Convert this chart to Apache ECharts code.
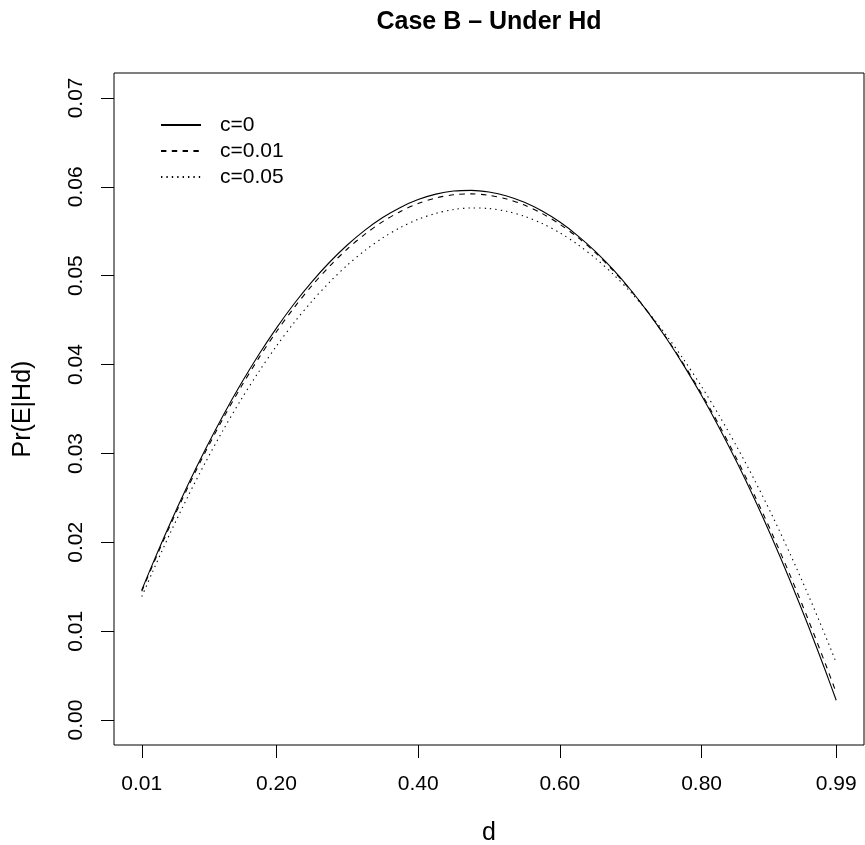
<!DOCTYPE html>
<html>
<head>
<meta charset="utf-8">
<script src="https://cdn.jsdelivr.net/npm/echarts@6/dist/echarts.min.js"></script>
<style>
html,body{margin:0;padding:0;background:#fff;}
#chart{width:865px;height:845px;}
</style>
</head>
<body>
<div id="chart"></div>
<script>
// d values (x)
const dValues = [0.01, 0.025, 0.05, 0.075, 0.10, 0.125, 0.15, 0.175, 0.20, 0.225, 0.25, 0.275, 0.30, 0.325,
                 0.35, 0.375, 0.40, 0.425, 0.45, 0.475, 0.50, 0.525, 0.55, 0.575, 0.60, 0.625, 0.65, 0.675,
                 0.70, 0.725, 0.75, 0.775, 0.80, 0.825, 0.85, 0.875, 0.90, 0.925, 0.95, 0.975, 0.99];
// Pr(E|Hd)
const c0   = [0.01463, 0.01752, 0.02211, 0.02644, 0.03050, 0.03430, 0.03783, 0.04110, 0.04410, 0.04684,
              0.04931, 0.05151, 0.05345, 0.05513, 0.05654, 0.05768, 0.05856, 0.05917, 0.05952, 0.05960,
              0.05941, 0.05897, 0.05825, 0.05727, 0.05603, 0.05451, 0.05274, 0.05070, 0.04839, 0.04582,
              0.04298, 0.03988, 0.03651, 0.03287, 0.02897, 0.02481, 0.02038, 0.01568, 0.01072, 0.00549, 0.00223];
const c001 = [0.01449, 0.01734, 0.02189, 0.02618, 0.03021, 0.03397, 0.03747, 0.04072, 0.04369, 0.04641,
              0.04887, 0.05106, 0.05300, 0.05467, 0.05608, 0.05723, 0.05811, 0.05874, 0.05910, 0.05920,
              0.05904, 0.05862, 0.05794, 0.05699, 0.05578, 0.05432, 0.05259, 0.05059, 0.04834, 0.04583,
              0.04305, 0.04001, 0.03671, 0.03315, 0.02932, 0.02524, 0.02089, 0.01628, 0.01141, 0.00628, 0.00308];
const c005 = [0.01390, 0.01664, 0.02102, 0.02514, 0.02902, 0.03265, 0.03604, 0.03918, 0.04207, 0.04472,
              0.04712, 0.04927, 0.05118, 0.05284, 0.05425, 0.05542, 0.05634, 0.05701, 0.05744, 0.05762,
              0.05755, 0.05724, 0.05668, 0.05587, 0.05482, 0.05352, 0.05197, 0.05018, 0.04814, 0.04586,
              0.04332, 0.04054, 0.03752, 0.03424, 0.03072, 0.02696, 0.02295, 0.01869, 0.01418, 0.00943, 0.00646];
const seriesNames = ['c=0', 'c=0.01', 'c=0.05'];
const xTicks = [0.01, 0.20, 0.40, 0.60, 0.80, 0.99];
const yTicks = [0.00, 0.01, 0.02, 0.03, 0.04, 0.05, 0.06, 0.07];

const FONT = '"Liberation Sans", Arial, Helvetica, sans-serif';
const chart = echarts.init(document.getElementById('chart'), null, {renderer: 'canvas'});

function pairs(ys) { return dValues.map((d, i) => [d, ys[i]]); }
const lineTypes = ['solid', [5.4, 5.4], [1.35, 4.05]];
const allValues = [c0, c001, c005];

chart.setOption({
  animation: false,
  backgroundColor: '#fff',
  title: {
    text: 'Case B \u2013 Under Hd',
    left: 489,
    top: 10,
    padding: 0,
    textAlign: 'center',
    textStyle: {fontFamily: FONT, fontSize: 25, fontWeight: 'bold', color: '#000'}
  },
  legend: {
    orient: 'vertical',
    left: 160,
    top: 114.5,
    padding: 0,
    itemWidth: 40,
    itemHeight: 14,
    itemGap: 5,
    data: seriesNames,
    itemStyle: {opacity: 0},
    textStyle: {fontFamily: FONT, fontSize: 21, color: '#000', padding: [0, 0, 0, 14]}
  },
  grid: {
    left: 114, right: 1, top: 73, bottom: 100,
    containLabel: false,
    outerBoundsMode: 'none',
    show: true, borderColor: '#000', borderWidth: 1, backgroundColor: 'transparent'
  },
  xAxis: {
    type: 'value',
    min: -0.0292, max: 1.0292,
    name: 'd',
    nameLocation: 'middle',
    nameGap: 76,
    nameTextStyle: {fontFamily: FONT, fontSize: 25, color: '#000'},
    axisLine: {show: false, onZero: false},
    splitLine: {show: false},
    axisTick: {show: true, inside: false, length: 13, customValues: xTicks, lineStyle: {color: '#000', width: 1}},
    axisLabel: {customValues: xTicks, margin: 29, fontFamily: FONT, fontSize: 21, color: '#000',
                formatter: v => v.toFixed(2)}
  },
  yAxis: {
    type: 'value',
    min: -0.0028, max: 0.0728,
    name: 'Pr(E|Hd)',
    nameLocation: 'middle',
    nameRotate: 90,
    nameGap: 78,
    nameTextStyle: {fontFamily: FONT, fontSize: 25, color: '#000'},
    axisLine: {show: false, onZero: false},
    splitLine: {show: false},
    axisTick: {show: true, inside: false, length: 13, customValues: yTicks, lineStyle: {color: '#000', width: 1}},
    axisLabel: {customValues: yTicks, rotate: 90, margin: 27, fontFamily: FONT, fontSize: 21, color: '#000',
                formatter: v => v.toFixed(2)}
  },
  series: seriesNames.map((name, k) => ({
    name: name,
    type: 'line',
    data: pairs(allValues[k]),
    symbol: 'circle',
    symbolSize: 0,
    showSymbol: false,
    smooth: 0.3,
    clip: false,
    itemStyle: {color: '#000'},
    lineStyle: {color: '#000', width: 1.1, type: lineTypes[k]}
  }))
});
</script>
</body>
</html>
